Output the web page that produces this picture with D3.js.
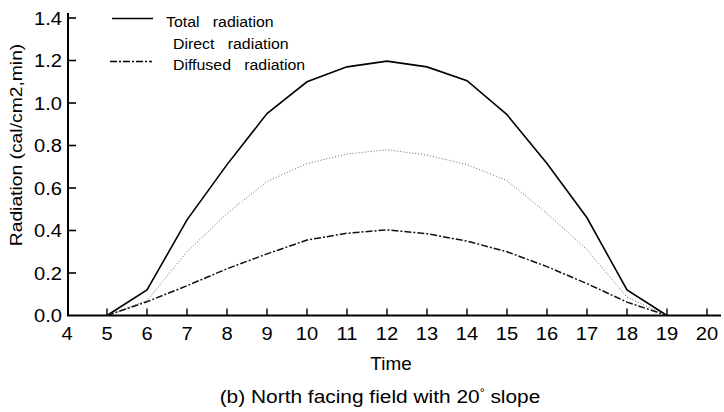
<!DOCTYPE html>
<html>
<head>
<meta charset="utf-8">
<script src="https://cdn.jsdelivr.net/npm/d3@7/dist/d3.min.js"></script>
<style>
  html, body { margin: 0; padding: 0; background: #fff; }
  svg { display: block; font-family: "Liberation Sans", Arial, sans-serif; }
</style>
</head>
<body>
<div id="chart"></div>
<script>
// hourly radiation, north facing field with 20 degree slope
var hours = [5, 6, 7, 8, 9, 10, 11, 12, 13, 14, 15, 16, 17, 18, 19];
var totalRad = [0, 0.12, 0.45, 0.71, 0.95, 1.10, 1.17, 1.197, 1.17, 1.105, 0.945, 0.715, 0.46, 0.12, 0];
var directRad = [0, 0.07, 0.30, 0.48, 0.63, 0.715, 0.76, 0.78, 0.755, 0.71, 0.635, 0.48, 0.31, 0.086, 0];
var diffusedRad = [0, 0.065, 0.14, 0.22, 0.29, 0.355, 0.387, 0.403, 0.385, 0.35, 0.30, 0.23, 0.15, 0.063, 0];
var xTicks = [4, 5, 6, 7, 8, 9, 10, 11, 12, 13, 14, 15, 16, 17, 18, 19, 20];
var yTicks = [0, 0.2, 0.4, 0.6, 0.8, 1.0, 1.2, 1.4];

(function () {
  "use strict";
  var W = 724, H = 412;
  var x = d3.scaleLinear().domain([4, 20]).range([67, 707]);
  var y = d3.scaleLinear().domain([0, 1.4]).range([315.5, 18]);

  var svg = d3.select("#chart").append("svg")
    .attr("width", W).attr("height", H);

  // the scanned figure is a bit wider than its font, so text gets a small x-stretch
  function label(px, py, str, size, sx, anchor) {
    return svg.append("text")
      .attr("transform", "translate(" + px + "," + py + ") scale(" + sx + ",1)")
      .attr("text-anchor", anchor || "start")
      .attr("font-size", size)
      .style("white-space", "pre")
      .text(str);
  }

  /* axes: plain lines, ticks pointing inward */
  var g = svg.append("g").attr("stroke", "#000").attr("fill", "none");
  g.append("line").attr("x1", 68).attr("x2", 68).attr("y1", 13).attr("y2", y(0))
    .attr("stroke-width", 2);
  g.append("line").attr("x1", 67).attr("x2", 721).attr("y1", y(0)).attr("y2", y(0))
    .attr("stroke-width", 2);

  g.selectAll(".yt").data(yTicks.slice(1)).enter().append("line")
    .attr("x1", 68).attr("x2", 76)
    .attr("y1", function (d) { return y(d); }).attr("y2", function (d) { return y(d); })
    .attr("stroke-width", 1.6);
  g.selectAll(".xt").data(xTicks.slice(1)).enter().append("line")
    .attr("x1", function (d) { return x(d); }).attr("x2", function (d) { return x(d); })
    .attr("y1", y(0)).attr("y2", y(0) - 7)
    .attr("stroke-width", 1.4);

  yTicks.forEach(function (d) {
    label(62, y(d) + 6.5, d3.format(".1f")(d), 19, 1.06, "end");
  });
  xTicks.forEach(function (d) {
    label(x(d), 340, String(d), 19, 1.06, "middle");
  });

  /* titles */
  label(391, 370, "Time", 17.5, 1.08, "middle");
  var cap = label(380, 403, "", 18.5, 1.13, "middle");
  cap.append("tspan").text("(b) North facing field with 20");
  cap.append("tspan").attr("dy", -7).attr("font-size", 11).text("°");
  cap.append("tspan").attr("dy", 7).text(" slope");
  svg.append("text")
    .attr("transform", "translate(22,145) rotate(-90) scale(1.17,1)")
    .attr("text-anchor", "middle").attr("font-size", 16.5)
    .text("Radiation (cal/cm2,min)");

  /* series */
  var series = [
    { name: "Total   radiation", vals: totalRad, dash: null, w: 1.6, c: "#000" },
    { name: "Direct   radiation", vals: directRad, dash: "1,2", w: 1, c: "#666" },
    { name: "Diffused   radiation", vals: diffusedRad, dash: "7,2,2,2", w: 1.5, c: "#111" }
  ];
  var line = d3.line()
    .x(function (d, i) { return x(hours[i]); })
    .y(function (d) { return y(d); });

  series.forEach(function (s) {
    svg.append("path").datum(s.vals)
      .attr("d", line)
      .attr("fill", "none")
      .attr("stroke", s.c)
      .attr("stroke-width", s.w)
      .attr("stroke-dasharray", s.dash);
  });

  /* legend (direct has no visible swatch in the original) */
  var leg = [
    { s: series[0], tx: 166, ty: 27, lx: [112, 153], ly: 18.5, swatch: true },
    { s: series[1], tx: 173, ty: 49, lx: [112, 153], ly: 40, swatch: false },
    { s: series[2], tx: 173, ty: 70, lx: [110, 152], ly: 61.5, swatch: true }
  ];
  leg.forEach(function (l) {
    if (l.swatch) {
      svg.append("line").attr("x1", l.lx[0]).attr("x2", l.lx[1])
        .attr("y1", l.ly).attr("y2", l.ly)
        .attr("stroke", "#000").attr("stroke-width", 1.6)
        .attr("stroke-dasharray", l.s.dash);
    }
    label(l.tx, l.ty, l.s.name, 15, 1.06);
  });
})();
</script>
</body>
</html>
